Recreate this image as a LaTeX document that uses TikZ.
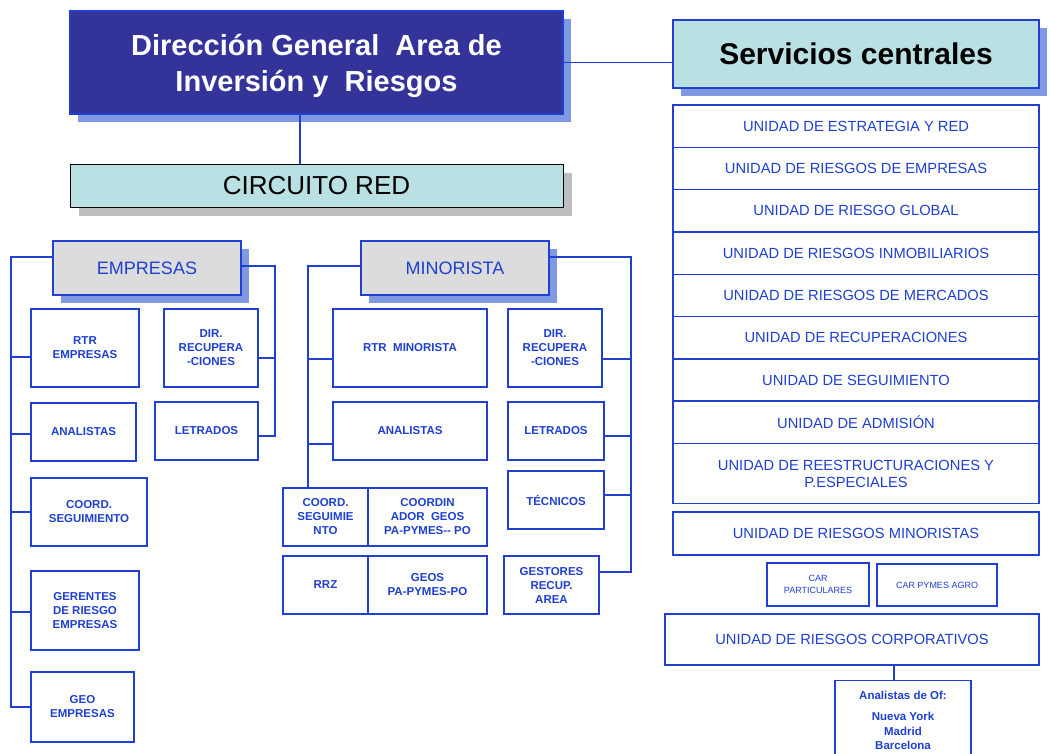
\documentclass[tikz,border=0pt]{standalone}
\usepackage{fontspec}
\setmainfont{Liberation Sans}
\usetikzlibrary{shadows}
\definecolor{orgblue}{RGB}{31,64,208}
\definecolor{titblue}{RGB}{51,51,153}
\definecolor{shblue}{RGB}{127,153,227}
\definecolor{headcyan}{RGB}{185,224,227}
\definecolor{headgray}{RGB}{220,220,220}
\definecolor{shgray}{RGB}{190,190,190}

\begin{document}
\begin{tikzpicture}[x=1pt, y=-1pt,
  link/.style={draw=orgblue, line width=1.4pt},
  head/.style={draw=orgblue, line width=1.4pt, align=center, inner sep=0pt},
  unit/.style={draw=orgblue, line width=1.4pt, fill=white, inner sep=1pt, align=center, text=orgblue},
  small/.style={unit, font=\fontsize{11.5}{14}\selectfont\bfseries},
  srv/.style={unit, minimum width=366pt, minimum height=42.3pt, font=\fontsize{14.7}{17}\selectfont},
  car/.style={unit, font=\fontsize{9}{11.3}\selectfont},
  blueshadow/.style={drop shadow={shadow xshift=8pt, shadow yshift=-8pt, fill=shblue, opacity=1}},
  grayshadow/.style={drop shadow={shadow xshift=9pt, shadow yshift=-9pt, fill=shgray, opacity=1}}]
  \useasboundingbox (0,0) rectangle (1050,753);

  % top level
  \node[head, fill=titblue, minimum width=493pt, minimum height=103pt, blueshadow] (tit) at (316.5,62.5) {};
  \node[align=center, text=white, font=\fontsize{29}{36.7}\selectfont\bfseries] (titText) at (316.5,66)
    {Dirección General~ Area de\\Inversión y~ Riesgos};
  \node[head, fill=headcyan, minimum width=366pt, minimum height=68pt,
    font=\fontsize{30}{34}\selectfont\bfseries, blueshadow] (serv) at (856,54) {Servicios centrales};
  \node[head, draw=black, line width=1pt, fill=headcyan, minimum width=493pt, minimum height=43pt,
    font=\fontsize{26}{30}\selectfont, grayshadow] (circ) at (316.5,185.5) {CIRCUITO RED};

  % empresas
  \node[head, fill=headgray, text=orgblue, minimum width=188pt, minimum height=54pt,
    font=\fontsize{18}{22}\selectfont, blueshadow] (emp) at (147,268) {EMPRESAS};
  \node[small, minimum width=108pt, minimum height=78pt] (empRtr) at (85,348) {RTR\\EMPRESAS};
  \node[small, minimum width=94pt, minimum height=78pt] (empDir) at (211,348) {DIR.\\RECUPERA\\-CIONES};
  \node[small, minimum width=105pt, minimum height=58pt] (empAna) at (83.5,432) {ANALISTAS};
  \node[small, minimum width=103pt, minimum height=58pt] (empLet) at (206.5,431) {LETRADOS};
  \node[small, minimum width=116pt, minimum height=68pt] (empCoord) at (89,512) {COORD.\\SEGUIMIENTO};
  \node[small, minimum width=108pt, minimum height=79pt] (empGer) at (85,610.5) {GERENTES\\DE RIESGO\\EMPRESAS};
  \node[small, minimum width=103pt, minimum height=70pt] (empGeo) at (82.5,707) {GEO\\EMPRESAS};

  % minorista
  \node[head, fill=headgray, text=orgblue, minimum width=188pt, minimum height=54pt,
    font=\fontsize{18}{22}\selectfont, blueshadow] (min) at (455,268) {MINORISTA};
  \node[small, minimum width=154pt, minimum height=78pt] (minRtr) at (410,348) {RTR~ MINORISTA};
  \node[small, minimum width=154pt, minimum height=58pt] (minAna) at (410,431) {ANALISTAS};
  \node[small, minimum width=85pt, minimum height=58pt] (minCoord) at (325.5,517) {COORD.\\SEGUIMIE\\NTO};
  \node[small, minimum width=119pt, minimum height=58pt] (minGeoCoord) at (427.5,517) {COORDIN\\ADOR~ GEOS\\PA-PYMES-{}- PO};
  \node[small, minimum width=85pt, minimum height=58pt] (minRrz) at (325.5,585) {RRZ};
  \node[small, minimum width=119pt, minimum height=58pt] (minGeos) at (427.5,585) {GEOS\\PA-PYMES-PO};
  \node[small, minimum width=94pt, minimum height=78pt] (minDir) at (555,348) {DIR.\\RECUPERA\\-CIONES};
  \node[small, minimum width=96pt, minimum height=58pt] (minLet) at (556,431) {LETRADOS};
  \node[small, minimum width=96pt, minimum height=58pt] (minTec) at (556,500) {TÉCNICOS};
  \node[small, minimum width=95pt, minimum height=58pt] (minGest) at (551.5,585) {GESTORES\\RECUP.\\AREA};

  % servicios centrales
  \node[srv] (u1) at (856,126.2) {UNIDAD DE ESTRATEGIA Y RED};
  \node[srv] (u2) at (856,168.5) {UNIDAD DE RIESGOS DE EMPRESAS};
  \node[srv] (u3) at (856,210.8) {UNIDAD DE RIESGO GLOBAL};
  \node[srv] (u4) at (856,253.1) {UNIDAD DE RIESGOS INMOBILIARIOS};
  \node[srv] (u5) at (856,295.4) {UNIDAD DE RIESGOS DE MERCADOS};
  \node[srv] (u6) at (856,337.7) {UNIDAD DE RECUPERACIONES};
  \node[srv] (u7) at (856,380) {UNIDAD DE SEGUIMIENTO};
  \node[srv] (u8) at (856,422.3) {UNIDAD DE ADMISIÓN};
  \node[srv, minimum height=59.7pt] (u9) at (856,473.5) {UNIDAD DE REESTRUCTURACIONES Y\\P.ESPECIALES};
  \node[srv, minimum height=43pt] (uMin) at (856,533.5) {UNIDAD DE RIESGOS MINORISTAS};
  \node[car, minimum width=102pt, minimum height=43pt] (carPart) at (818,584.5) {CAR\\PARTICULARES};
  \node[car, minimum width=120pt, minimum height=42pt] (carPymes) at (937,585) {CAR PYMES AGRO};
  \node[srv, minimum width=374pt, minimum height=51pt] (uCorp) at (852,639.5) {UNIDAD DE RIESGOS CORPORATIVOS};
  \node[unit, font=\fontsize{11.5}{14.5}\selectfont\bfseries, minimum width=136pt, minimum height=80pt,
    anchor=north] (ana) at (903,680) {Analistas de Of:\\[6.5pt]Nueva York\\Madrid\\Barcelona};

  % connectors
  \draw[link] (tit.east) -- (tit.east -| serv.west);
  \draw[link] ([xshift=-16.5pt]tit.south) -- ([xshift=-16.5pt]circ.north);
  \draw[link] ([xshift=-9pt]ana.north) -- ([xshift=-9pt]ana.north |- uCorp.south);

  \coordinate (eL) at (11,707);
  \coordinate (eR) at (275,436);
  \draw[link] ([yshift=11pt]emp.west) -| (eL) -- (empGeo.west);
  \draw[link] ([yshift=-9pt]empRtr.west) -- ([yshift=-9pt]empRtr.west -| eL);
  \draw[link] ([yshift=-2pt]empAna.west) -- ([yshift=-2pt]empAna.west -| eL);
  \draw[link] (empCoord.west) -- (empCoord.west -| eL);
  \draw[link] ([yshift=-1.5pt]empGer.west) -- ([yshift=-1.5pt]empGer.west -| eL);
  \draw[link] ([yshift=2pt]emp.east) -| (eR) -- (eR -| empLet.east);
  \draw[link] ([yshift=-10pt]empDir.east) -- ([yshift=-10pt]empDir.east -| eR);

  \coordinate (mL) at (308,488);
  \coordinate (mR) at (631,572);
  \draw[link] ([yshift=2pt]min.west) -| (mL);
  \draw[link] ([yshift=-11pt]minRtr.west) -- ([yshift=-11pt]minRtr.west -| mL);
  \draw[link] ([yshift=-13pt]minAna.west) -- ([yshift=-13pt]minAna.west -| mL);
  \draw[link] ([yshift=11pt]min.east) -| (mR) -- (mR -| minGest.east);
  \draw[link] ([yshift=-11pt]minDir.east) -- ([yshift=-11pt]minDir.east -| mR);
  \draw[link] ([yshift=-5pt]minLet.east) -- ([yshift=-5pt]minLet.east -| mR);
  \draw[link] ([yshift=5pt]minTec.east) -- ([yshift=5pt]minTec.east -| mR);
\end{tikzpicture}
\end{document}
